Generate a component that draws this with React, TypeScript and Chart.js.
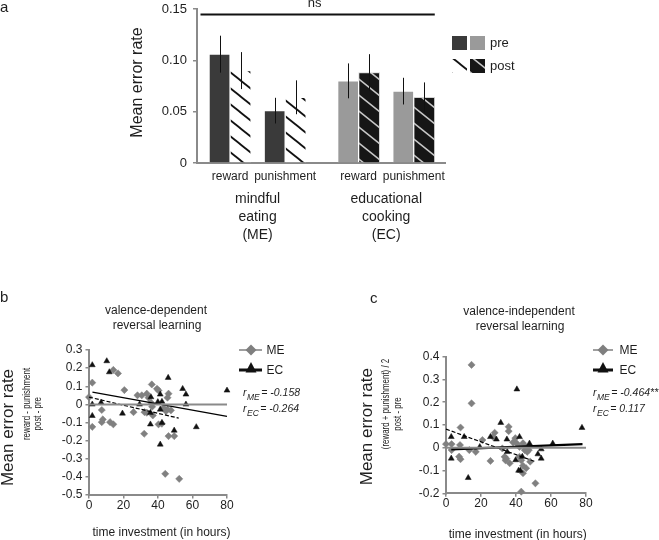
import React, { useEffect, useRef } from 'react';
import { Chart, registerables } from 'chart.js';

Chart.register(...registerables);

const FONT = "'Liberation Sans', Arial, Helvetica, sans-serif";
const INK = '#1e1e1e';
const AXIS = '#8a8a8a';
Chart.defaults.font.family = FONT;

// ---------------- Panel a data ----------------
const barCategories = ['reward', 'punishment', 'reward', 'punishment'];
const groupLines = [['mindful', 'eating', '(ME)'], ['educational', 'cooking', '(EC)']];
const preMean = [0.106, 0.051, 0.080, 0.070];
const preErr = [0.018, 0.0125, 0.017, 0.013];
const postMean = [0.090, 0.064, 0.088, 0.064];
const postErr = [0.018, 0.0165, 0.018, 0.0145];
const yTicksA = [0, 0.05, 0.1, 0.15];
const yLabelsA = ['0', '0.05', '0.10', '0.15'];
const sigLabel = 'ns';
const legendLabelsA = ['pre', 'post'];
const yTitleA = 'Mean error rate';

// ---------------- Panel b data ----------------
const meXB = [0, 1.9, 14.1, 16.8, 20.5, 28.1, 30.6, 36.4, 39.4, 40.3, 33.5, 34.5, 46.1, 45.5, 36, 36.6, 43.2, 45.5, 47.5, 25.8, 32.2, 33.5, 37, 44.6, 7.4, 8, 7.4, 12.2, 14.1, 1.9, 32, 40.3, 42.2, 46.1, 49.4, 44.2, 52.3];
const meYB = [0.04, 0.12, 0.19, 0.171, 0.079, 0.05, 0.05, 0.11, 0.086, 0.077, 0.059, 0.037, 0.059, 0.037, 0.009, -0.013, -0.019, -0.028, -0.033, -0.043, -0.043, -0.046, -0.061, -0.037, -0.031, -0.083, -0.098, -0.098, -0.11, -0.124, -0.162, -0.11, -0.107, -0.175, -0.175, -0.383, -0.411];
const ecXB = [1.9, 10.3, 11.8, 45.9, 54.3, 56.2, 80, 41.3, 35.9, 29.3, 39.9, 42.3, 1.9, 7, 1.9, 19.4, 35.6, 41.3, 42.3, 35.6, 49.4, 41.3, 62.2, 56.2];
const ecYB = [0.217, 0.239, 0.178, 0.147, 0.086, 0.055, 0.077, 0.055, 0.04, 0, 0.013, 0.015, 0, 0.01, -0.063, -0.05, -0.046, -0.028, -0.101, -0.11, -0.144, -0.221, -0.125, 0];
const meFitB = [{ x: 0, y: 0.04 }, { x: 52, y: -0.076 }];
const ecFitB = [{ x: 2, y: 0.068 }, { x: 80, y: -0.066 }];
const yTicksB = [-0.5, -0.4, -0.3, -0.2, -0.1, 0, 0.1, 0.2, 0.3];
const yLabelsB = ['-0.5', '-0.4', '-0.3', '-0.2', '-0.1', '0', '0.1', '0.2', '0.3'];
const rMEb = '-0.158';
const rECb = '-0.264';
const titleB = ['valence-dependent', 'reversal learning'];
const yTitlesB = ['Mean error rate', 'reward - punishment', 'post - pre'];

// ---------------- Panel c data ----------------
const meXC = [14.6, 14.6, 0, 3.2, 3.2, 8, 8.3, 7.5, 8.3, 13.3, 17, 20.8, 25.4, 26.9, 27.8, 32.2, 33.5, 34, 34.5, 35.8, 35.8, 36.4, 38.3, 39.6, 40.3, 42, 42, 43, 44, 44, 45, 45.4, 46.4, 47.3, 44, 45.8, 48.1, 43, 51.1];
const meYC = [0.364, 0.195, 0.016, 0.016, -0.01, 0.012, 0.089, -0.039, -0.05, -0.01, -0.018, 0.034, -0.058, 0.048, 0.066, -0.003, -0.04, -0.055, -0.048, 0.092, 0.073, -0.068, 0.024, 0.042, 0.02, 0.004, -0.04, -0.055, 0.02, -0.079, -0.01, 0.004, -0.018, -0.01, -0.112, -0.09, -0.061, -0.193, -0.156];
const ecXC = [3, 3, 10.4, 12.7, 19.3, 25.4, 28.8, 31.3, 34.8, 35, 40.5, 39.8, 42, 41.5, 42.5, 43.6, 47.7, 52.5, 54.4, 54.4, 61, 77.7];
const ecYC = [0.048, -0.047, 0.048, -0.132, 0.004, 0.048, 0.037, 0.11, 0.037, -0.018, 0.257, -0.054, 0.048, -0.1, -0.1, -0.039, 0.019, -0.028, -0.006, -0.047, 0.019, 0.088];
const meFitC = [{ x: 0, y: 0.082 }, { x: 51, y: -0.061 }];
const ecFitC = [{ x: 3, y: -0.007 }, { x: 78, y: 0.016 }];
const yTicksC = [-0.2, -0.1, 0, 0.1, 0.2, 0.3, 0.4];
const yLabelsC = ['-0.2', '-0.1', '0', '0.1', '0.2', '0.3', '0.4'];
const rMEc = '-0.464**';
const rECc = '0.117';
const titleC = ['valence-independent', 'reversal learning'];
const yTitlesC = ['Mean error rate', '(reward + punishment) / 2', 'post - pre'];

// shared
const xTicksS = [0, 20, 40, 60, 80];
const xLabelsS = ['0', '20', '40', '60', '80'];
const xTitleS = 'time investment (in hours)';
const zeroLine = [{ x: 0, y: 0 }, { x: 80, y: 0 }];
const legendS = ['ME', 'EC'];

// ---------------- helpers ----------------
function hatch(bg: string, fg: string, lw: number) {
  const c = document.createElement('canvas');
  c.width = 20; c.height = 16;
  const g = c.getContext('2d')!;
  g.fillStyle = bg; g.fillRect(0, 0, 20, 16);
  g.strokeStyle = fg; g.lineWidth = lw;
  for (const k of [-16, 0, 16]) {
    g.beginPath(); g.moveTo(-2, k - 1.6); g.lineTo(22, k + 17.6); g.stroke();
  }
  return g.createPattern(c, 'repeat')!;
}

type TO = { size?: number; style?: string; align?: CanvasTextAlign; base?: CanvasTextBaseline; rot?: number; sx?: number; color?: string };
function txt(ctx: CanvasRenderingContext2D, s: string, x: number, y: number, o: TO = {}) {
  ctx.save();
  ctx.font = `${o.style || 'normal'} ${o.size || 12}px ${FONT}`;
  ctx.fillStyle = o.color || INK;
  ctx.textAlign = o.align || 'center';
  ctx.textBaseline = o.base || 'middle';
  ctx.translate(x, y);
  if (o.rot) ctx.rotate(o.rot);
  if (o.sx) ctx.scale(o.sx, 1);
  ctx.fillText(s, 0, 0);
  ctx.restore();
}

function rText(ctx: CanvasRenderingContext2D, x: number, y: number, sub: string, val: string) {
  ctx.save();
  ctx.fillStyle = INK; ctx.textAlign = 'left'; ctx.textBaseline = 'alphabetic';
  ctx.font = `italic 10.5px ${FONT}`;
  ctx.fillText('r', x, y);
  let cx = x + ctx.measureText('r').width + 0.5;
  ctx.font = `italic 8.5px ${FONT}`;
  ctx.fillText(sub, cx, y + 4);
  cx += ctx.measureText(sub).width + 1.5;
  ctx.font = `italic 10.5px ${FONT}`;
  ctx.fillText('= ' + val, cx, y);
  ctx.restore();
}

// fix scale box sizes and drop label overflow padding so chart areas land exactly
const fixBox = (prop: 'width' | 'height', v: number) => (s: any) => {
  s[prop] = v;
  s.paddingTop = 0; s.paddingBottom = 0; s.paddingLeft = 0; s.paddingRight = 0;
};

const slot = (i: number) => 1.8 + 3 * (i % 2) + 7 * Math.floor(i / 2);

// ---------------- Panel a config ----------------
function makeA() {
  const pW = hatch('#ffffff', '#111111', 1.8);
  const pD = hatch('#161616', '#c8c8c8', 1.6);
  const plugin = {
    id: 'panelA',
    afterDatasetsDraw(chart: any) {
      const ctx = chart.ctx as CanvasRenderingContext2D;
      const ys = chart.scales.y;
      ctx.save();
      ctx.strokeStyle = '#111'; ctx.lineWidth = 1;
      [[preMean, preErr], [postMean, postErr]].forEach(([m, e], di) => {
        chart.getDatasetMeta(di).data.forEach((bar: any, i: number) => {
          const x = Math.round(bar.x) + 0.5;
          ctx.beginPath();
          ctx.moveTo(x, ys.getPixelForValue(m[i] - e[i]));
          ctx.lineTo(x, ys.getPixelForValue(m[i] + e[i]));
          ctx.stroke();
        });
      });
      ctx.restore();
    },
    afterDraw(chart: any) {
      const ctx = chart.ctx as CanvasRenderingContext2D;
      const xs = chart.scales.x;
      const ca = chart.chartArea;
      const last = chart.getDatasetMeta(1).data[3];
      const x0 = ca.left + 3.5, x1 = last.x + 10.5;
      ctx.save();
      ctx.strokeStyle = '#111'; ctx.lineWidth = 2;
      ctx.beginPath(); ctx.moveTo(x0, ca.top + 5.5); ctx.lineTo(x1, ca.top + 5.5); ctx.stroke();
      ctx.restore();
      txt(ctx, sigLabel, (x0 + x1) / 2 - 3, 7, { size: 13, base: 'alphabetic' });
      groupLines.forEach((lines, g) => {
        const cx = (xs.getPixelForValue(slot(2 * g)) + xs.getPixelForValue(slot(2 * g + 1))) / 2;
        lines.forEach((l, k) => txt(ctx, l, cx, 199 + 18 * k, { size: 14 }));
      });
      txt(ctx, yTitleA, 137.5, 82.5, { size: 16, rot: -Math.PI / 2 });
      txt(ctx, 'a', 0, 12, { size: 15, align: 'left', base: 'alphabetic' });
      ctx.save();
      ctx.fillStyle = '#3a3a3a'; ctx.fillRect(452, 36, 15, 14);
      ctx.fillStyle = '#9a9a9a'; ctx.fillRect(470, 36, 15, 14);
      ctx.fillStyle = pW; ctx.fillRect(452, 59, 15, 14);
      ctx.fillStyle = pD; ctx.fillRect(470, 59, 15, 14);
      ctx.restore();
      txt(ctx, legendLabelsA[0], 490, 43, { size: 13, align: 'left' });
      txt(ctx, legendLabelsA[1], 490, 66, { size: 13, align: 'left' });
    },
  };
  return {
    type: 'bar',
    data: {
      datasets: [
        {
          label: legendLabelsA[0],
          data: preMean.map((v, i) => ({ x: slot(i), y: v })),
          backgroundColor: ['#3a3a3a', '#3a3a3a', '#9a9a9a', '#9a9a9a'],
          borderColor: '#ffffff', borderWidth: 1, borderSkipped: 'bottom', barThickness: 21,
        },
        {
          label: legendLabelsA[1],
          data: postMean.map((v, i) => ({ x: slot(i), y: v })),
          backgroundColor: [pW, pW, pD, pD],
          borderColor: ['#ffffff', '#ffffff', '#d4d4d4', '#d4d4d4'], borderWidth: 1, borderSkipped: 'bottom', barThickness: 21,
        },
      ],
    },
    options: {
      responsive: false, animation: false, events: [],
      layout: { padding: { left: 0, right: 214, top: 9, bottom: 52 }, autoPadding: false },
      plugins: { legend: { display: false }, tooltip: { enabled: false } },
      scales: {
        x: {
          type: 'linear', min: 0, max: 13.5, offset: false,
          afterFit: fixBox('height', 30),
          afterBuildTicks: (s: any) => { s.ticks = barCategories.map((_, i) => ({ value: slot(i) })); },
          grid: { display: false, drawTicks: false },
          border: { display: true, color: AXIS, width: 2 },
          ticks: { autoSkip: false, maxRotation: 0, padding: 6, font: { size: 12 }, color: INK, callback: (_v: any, i: number) => barCategories[i] },
        },
        y: {
          min: 0, max: 0.15,
          afterFit: fixBox('width', 197),
          afterBuildTicks: (s: any) => { s.ticks = yTicksA.map((v) => ({ value: v })); },
          grid: { drawOnChartArea: false, drawTicks: true, tickLength: 4, color: AXIS, lineWidth: 1.5 },
          border: { display: true, color: AXIS, width: 2 },
          ticks: { padding: 6, font: { size: 13 }, color: INK, callback: (_v: any, i: number) => yLabelsA[i] },
        },
      },
    },
    plugins: [plugin],
  };
}

// ---------------- scatter config ----------------
type Spec = {
  offX: number; offY: number; pad: any; yW: number; xH: number;
  yMin: number; yMax: number; yTicks: number[]; yLabels: string[];
  meX: number[]; meY: number[]; ecX: number[]; ecY: number[];
  meFit: any[]; ecFit: any[]; ecW: number;
  letter: string; letterX: number; letterY: number;
  title: string[]; titleX: number; titleY: number;
  yTitles: string[]; yTitlePos: number[][];
  xTitleX: number; xTitleY: number;
  leg: { x0: number; x1: number; cx: number; tx: number };
  rX: number; rME: string; rEC: string;
};

function makeScatter(sp: Spec) {
  const plugin = {
    id: 'scatterText',
    afterDraw(chart: any) {
      const ctx = chart.ctx as CanvasRenderingContext2D;
      ctx.save();
      ctx.translate(-sp.offX, -sp.offY);
      txt(ctx, sp.letter, sp.letterX, sp.letterY, { size: 15, align: 'left', base: 'alphabetic' });
      txt(ctx, sp.title[0], sp.titleX, sp.titleY, { size: 12 });
      txt(ctx, sp.title[1], sp.titleX + 1, sp.titleY + 14.5, { size: 12 });
      txt(ctx, sp.yTitles[0], sp.yTitlePos[0][0], sp.yTitlePos[0][1], { size: 17, rot: -Math.PI / 2 });
      txt(ctx, sp.yTitles[1], sp.yTitlePos[1][0], sp.yTitlePos[1][1], { size: 11, rot: -Math.PI / 2, sx: 0.72 });
      txt(ctx, sp.yTitles[2], sp.yTitlePos[2][0], sp.yTitlePos[2][1], { size: 11, rot: -Math.PI / 2, sx: 0.72 });
      txt(ctx, xTitleS, sp.xTitleX, sp.xTitleY, { size: 12 });
      const L = sp.leg;
      ctx.strokeStyle = '#7f7f7f'; ctx.lineWidth = 1.5;
      ctx.beginPath(); ctx.moveTo(L.x0, 350); ctx.lineTo(L.x1, 350); ctx.stroke();
      ctx.fillStyle = '#7f7f7f';
      ctx.beginPath(); ctx.moveTo(L.cx, 344.5); ctx.lineTo(L.cx + 5.5, 350); ctx.lineTo(L.cx, 355.5); ctx.lineTo(L.cx - 5.5, 350); ctx.closePath(); ctx.fill();
      ctx.strokeStyle = '#111'; ctx.lineWidth = 3;
      ctx.beginPath(); ctx.moveTo(L.x0, 370); ctx.lineTo(L.x1, 370); ctx.stroke();
      ctx.fillStyle = '#111';
      ctx.beginPath(); ctx.moveTo(L.cx, 362); ctx.lineTo(L.cx + 5.5, 372.5); ctx.lineTo(L.cx - 5.5, 372.5); ctx.closePath(); ctx.fill();
      txt(ctx, legendS[0], L.tx, 350.5, { size: 12, align: 'left' });
      txt(ctx, legendS[1], L.tx, 370.5, { size: 12, align: 'left' });
      rText(ctx, sp.rX, 396, 'ME', sp.rME);
      rText(ctx, sp.rX, 412, 'EC', sp.rEC);
      ctx.restore();
    },
  };
  const pts = (xs: number[], ys: number[]) => xs.map((x, i) => ({ x, y: ys[i] }));
  const axisCommon = {
    grid: { drawOnChartArea: false, drawTicks: true, tickLength: 3.5, color: AXIS, lineWidth: 1.5 },
    border: { display: true, color: AXIS, width: 2 },
  };
  return {
    type: 'scatter',
    data: {
      datasets: [
        { data: zeroLine, showLine: true, borderColor: AXIS, borderWidth: 2, pointRadius: 0, clip: false },
        { data: sp.ecFit, showLine: true, borderColor: '#000', borderWidth: sp.ecW, pointRadius: 0, clip: false },
        { data: sp.meFit, showLine: true, borderColor: '#000', borderWidth: 1.2, borderDash: [4, 2], pointRadius: 0, clip: false },
        { data: pts(sp.ecX, sp.ecY), pointStyle: 'triangle', pointRadius: 3.4, backgroundColor: '#111', borderColor: '#111', borderWidth: 0.5, clip: false },
        { data: pts(sp.meX, sp.meY), pointStyle: 'rectRot', pointRadius: 3.6, backgroundColor: '#808080', borderColor: '#808080', borderWidth: 0.5, clip: false },
      ],
    },
    options: {
      responsive: false, animation: false, events: [],
      layout: { padding: sp.pad, autoPadding: false },
      plugins: { legend: { display: false }, tooltip: { enabled: false } },
      scales: {
        x: {
          type: 'linear', min: 0, max: 80,
          afterFit: fixBox('height', sp.xH),
          afterBuildTicks: (s: any) => { s.ticks = xTicksS.map((v) => ({ value: v })); },
          ...axisCommon,
          ticks: { autoSkip: false, maxRotation: 0, padding: 0, font: { size: 12 }, color: INK, callback: (_v: any, i: number) => xLabelsS[i] },
        },
        y: {
          type: 'linear', min: sp.yMin, max: sp.yMax,
          afterFit: fixBox('width', sp.yW),
          afterBuildTicks: (s: any) => { s.ticks = sp.yTicks.map((v) => ({ value: v })); },
          ...axisCommon,
          ticks: { padding: 3, font: { size: 12 }, color: INK, callback: (_v: any, i: number) => sp.yLabels[i] },
        },
      },
    },
    plugins: [plugin],
  };
}

const specB: Spec = {
  offX: 0, offY: 245, pad: { left: 0, right: 103, top: 105, bottom: 23 }, yW: 89, xH: 22,
  yMin: -0.5, yMax: 0.3, yTicks: yTicksB, yLabels: yLabelsB,
  meX: meXB, meY: meYB, ecX: ecXB, ecY: ecYB, meFit: meFitB, ecFit: ecFitB, ecW: 1.2,
  letter: 'b', letterX: 0, letterY: 302,
  title: titleB, titleX: 156, titleY: 311,
  yTitles: yTitlesB, yTitlePos: [[8, 427.5], [27, 404], [38, 413.7]],
  xTitleX: 161.5, xTitleY: 533,
  leg: { x0: 239, x1: 262, cx: 251, tx: 266.5 },
  rX: 243, rME: rMEb, rEC: rECb,
};

const specC: Spec = {
  offX: 330, offY: 245, pad: { left: 0, right: 73, top: 111.7, bottom: 24.7 }, yW: 116, xH: 22,
  yMin: -0.2, yMax: 0.4, yTicks: yTicksC, yLabels: yLabelsC,
  meX: meXC, meY: meYC, ecX: ecXC, ecY: ecYC, meFit: meFitC, ecFit: ecFitC, ecW: 2.2,
  letter: 'c', letterX: 370, letterY: 303,
  title: titleC, titleX: 519, titleY: 312,
  yTitles: yTitlesC, yTitlePos: [[367.5, 426.7], [386, 404], [397.5, 414]],
  xTitleX: 517.7, xTitleY: 534.5,
  leg: { x0: 593, x1: 613, cx: 603, tx: 619.5 },
  rX: 593, rME: rMEc, rEC: rECc,
};

function ChartCanvas(props: { left: number; top: number; width: number; height: number; make: () => any }) {
  const ref = useRef<HTMLCanvasElement>(null);
  useEffect(() => {
    const chart = new Chart(ref.current as HTMLCanvasElement, props.make());
    return () => chart.destroy();
  }, []);
  return (
    <canvas
      ref={ref}
      width={props.width}
      height={props.height}
      style={{ position: 'absolute', left: props.left, top: props.top, width: props.width, height: props.height }}
    />
  );
}

export default function App() {
  return (
    <div style={{ position: 'absolute', left: 0, top: 0, width: 659, height: 540, background: '#ffffff', overflow: 'hidden' }}>
      <ChartCanvas left={0} top={0} width={659} height={245} make={makeA} />
      <ChartCanvas left={0} top={245} width={330} height={295} make={() => makeScatter(specB)} />
      <ChartCanvas left={330} top={245} width={329} height={295} make={() => makeScatter(specC)} />
    </div>
  );
}
